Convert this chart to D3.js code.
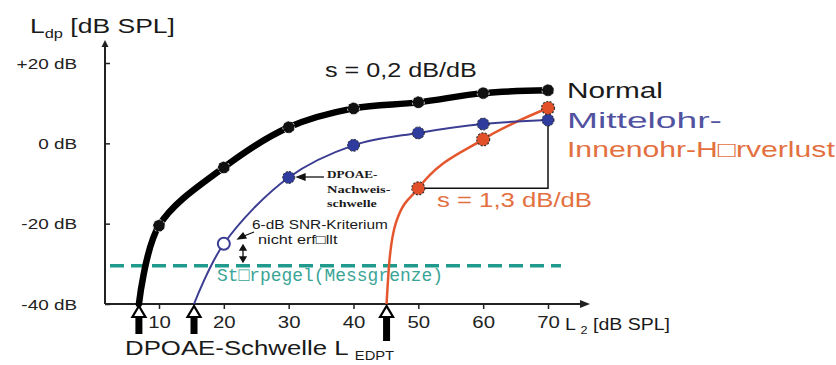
<!DOCTYPE html>
<html>
<head>
<meta charset="utf-8">
<script src="https://cdn.jsdelivr.net/npm/d3@7"></script>
<style>
  html, body { margin: 0; padding: 0; background: #fff; }
  svg { display: block; }
</style>
</head>
<body>
<svg id="chart" width="836" height="365"></svg>
<script>
// ---------------- data ----------------
const xTickValues = [10, 20, 30, 40, 50, 60, 70];
const yTickValues = [20, 0, -20, -40];
const yTickLabels = ["+20 dB", "0 dB", "-20 dB", "-40 dB"];

// DPOAE thresholds L_EDPT (L2 where curves reach -40 dB)
const thresholds = { normal: 6.9, mittelohr: 15.4, innenohr: 45.1 };

// Normal hearing
const normalL2 = [10, 20, 30, 40, 50, 60, 70];
const normalLdp = [-20.5, -6, 4, 8.7, 10.2, 12.5, 13.2];

// Middle-ear hearing loss (first point: 6-dB SNR criterion not met)
const mittelL2 = [20, 30, 40, 50, 60, 70];
const mittelLdp = [-25, -8.5, -0.5, 2.6, 4.8, 5.8];

// Inner-ear hearing loss
const innenL2 = [50, 60, 70];
const innenLdp = [-11.2, 1, 8.8];
// traced points of the drawn red curve below the first dot
const innenTraceL2 = [45.5, 46.6];
const innenTraceLdp = [-30, -19.5];

const noiseFloor = -30.5;   // Störpegel (Messgrenze)
const noiseEnd = 72;

// ---------------- setup ----------------
const svg = d3.select("#chart");
const x = d3.scaleLinear().domain([10, 70]).range([159, 548]);
const y = d3.scaleLinear().domain([-40, 20]).range([304, 63]);
const axisX0 = 105;          // y-axis pixel position
const axisY0 = y(-40);       // x-axis pixel position
const SANS = "'Liberation Sans', Arial, sans-serif";

function addText(parent, o) {
  const g = parent.append("g");
  const t = g.append("text")
    .attr("font-size", o.size)
    .attr("font-family", o.family || SANS)
    .attr("font-weight", o.weight || "normal")
    .attr("fill", o.fill || "#1a1a1a");
  o.parts.forEach(p => {
    t.append("tspan").text(p.t)
      .attr("font-size", p.size || o.size)
      .attr("dy", p.dy || 0);
  });
  const w = t.node().getBBox().width;
  const s = o.width ? o.width / w : (o.sx || 1);
  let tx = o.x;
  if (o.anchor === "end") tx = o.x - w * s;
  if (o.anchor === "middle") tx = o.x - w * s / 2;
  g.attr("transform", `translate(${tx},${o.y}) scale(${s},1)`);
  return g;
}

// ---------------- axes ----------------
const axG = svg.append("g");
axG.append("line").attr("x1", axisX0).attr("x2", 582)
  .attr("y1", axisY0).attr("y2", axisY0)
  .attr("stroke", "#222").attr("stroke-width", 2);
axG.append("path")
  .attr("d", `M590,${axisY0} L580,${axisY0 - 4} L580,${axisY0 + 4} Z`)
  .attr("fill", "#222");
axG.append("line").attr("x1", axisX0).attr("x2", axisX0)
  .attr("y1", axisY0).attr("y2", 46)
  .attr("stroke", "#222").attr("stroke-width", 2);
axG.append("path")
  .attr("d", `M${axisX0},40 L${axisX0 - 3.5},47 L${axisX0 + 3.5},47 Z`)
  .attr("fill", "#222");

// x ticks
const xAxis = d3.axisBottom(x).tickValues(xTickValues).tickSize(5).tickPadding(7);
const gx = svg.append("g").attr("transform", `translate(0,${axisY0})`).call(xAxis);
gx.select(".domain").remove();
gx.selectAll(".tick line").attr("stroke", "#222").attr("stroke-width", 1.5);
gx.selectAll(".tick text")
  .attr("font-size", 17).attr("font-family", SANS).attr("fill", "#222")
  .attr("dy", null).attr("y", 24)
  .attr("transform", "scale(1.2,1)");

// y ticks
const yAxis = d3.axisLeft(y).tickValues(yTickValues).tickSizeInner(-5).tickSizeOuter(0)
  .tickFormat((d, i) => yTickLabels[i]);
const gy = svg.append("g").attr("transform", `translate(${axisX0},0)`).call(yAxis);
gy.select(".domain").remove();
gy.selectAll(".tick line").attr("stroke", "#222").attr("stroke-width", 1.5);
gy.selectAll(".tick text")
  .attr("font-size", 14).attr("font-family", SANS).attr("fill", "#222")
  .attr("x", 0).attr("dy", "0.36em")
  .attr("transform", "translate(-28,0) scale(1.35,1)");

// axis titles
addText(svg, { x: 30, y: 33, size: 21, width: 145,
  parts: [{ t: "L" }, { t: "dp", size: 13, dy: 5 }, { t: " [dB SPL]", dy: -5 }] });
addText(svg, { x: 565, y: 330, size: 17, width: 105,
  parts: [{ t: "L " }, { t: "2", size: 11, dy: 4 }, { t: " [dB SPL]", dy: -4 }] });

// ---------------- noise floor ----------------
svg.append("line")
  .attr("x1", axisX0 + 5).attr("x2", x(noiseEnd))
  .attr("y1", y(noiseFloor)).attr("y2", y(noiseFloor))
  .attr("stroke", "#1f9a8c").attr("stroke-width", 3.5)
  .attr("stroke-dasharray", "14,7");
addText(svg, { x: 217, y: 281, size: 19, width: 226, fill: "#3aa596",
  family: "'Liberation Mono', 'Courier New', monospace",
  parts: [{ t: "St\u25A1rpegel(Messgrenze)" }] });

// ---------------- slope triangle ----------------
const tri = svg.append("g").attr("stroke", "#111").attr("stroke-width", 1.5).attr("fill", "none");
tri.append("path").attr("d",
  `M${x(innenL2[0])},${y(innenLdp[0])} L${x(70)},${y(innenLdp[0])} L${x(70)},${y(mittelLdp[5])}`);

// ---------------- curves ----------------
const lineSmooth = d3.line().x(d => x(d[0])).y(d => y(d[1])).curve(d3.curveCatmullRom.alpha(0.5));
const lineMono = d3.line().x(d => x(d[0])).y(d => y(d[1])).curve(d3.curveMonotoneX);

const normalPts = [[thresholds.normal, -40]].concat(normalL2.map((v, i) => [v, normalLdp[i]]));
const mittelPts = [[thresholds.mittelohr, -40]].concat(mittelL2.map((v, i) => [v, mittelLdp[i]]));
const innenPts = [[thresholds.innenohr, -40]]
  .concat(innenTraceL2.map((v, i) => [v, innenTraceLdp[i]]))
  .concat(innenL2.map((v, i) => [v, innenLdp[i]]));

svg.append("path").attr("d", lineMono(innenPts))
  .attr("fill", "none").attr("stroke", "#e4572e").attr("stroke-width", 2.5);
svg.append("path").attr("d", lineSmooth(mittelPts))
  .attr("fill", "none").attr("stroke", "#3b3d92").attr("stroke-width", 2);
svg.append("path").attr("d", lineSmooth(normalPts))
  .attr("fill", "none").attr("stroke", "#000").attr("stroke-width", 6.5)
  .attr("stroke-linecap", "round").attr("stroke-linejoin", "round");

// ---------------- dots ----------------
svg.append("g").selectAll("circle").data(normalL2.map((v, i) => [v, normalLdp[i]]))
  .join("circle").attr("cx", d => x(d[0])).attr("cy", d => y(d[1])).attr("r", 6)
  .attr("fill", "#111").attr("stroke", "#ddd").attr("stroke-width", 1)
  .attr("stroke-dasharray", "2,2");

svg.append("g").selectAll("circle").data(mittelL2.map((v, i) => [v, mittelLdp[i], i]))
  .join("circle").attr("cx", d => x(d[0])).attr("cy", d => y(d[1])).attr("r", 6)
  .attr("fill", d => d[2] === 0 ? "#fff" : "#2f3c9e")
  .attr("stroke", d => d[2] === 0 ? "#3b3d92" : "#222")
  .attr("stroke-width", d => d[2] === 0 ? 2 : 1)
  .attr("stroke-dasharray", d => d[2] === 0 ? null : "2,1.5");

svg.append("g").selectAll("circle").data(innenL2.map((v, i) => [v, innenLdp[i]]))
  .join("circle").attr("cx", d => x(d[0])).attr("cy", d => y(d[1])).attr("r", 6.5)
  .attr("fill", "#e2502a").attr("stroke", "#333").attr("stroke-width", 1.2)
  .attr("stroke-dasharray", "2,1.5");

// ---------------- threshold arrows ----------------
const arrG = svg.append("g");
[[thresholds.normal, 334], [thresholds.mittelohr, 334], [thresholds.innenohr, 341]].forEach(([t, yb]) => {
  const cx = x(t);
  arrG.append("rect").attr("x", cx - 3.5).attr("y", 316).attr("width", 7).attr("height", yb - 316)
    .attr("fill", "#000");
  arrG.append("path").attr("d", `M${cx},${axisY0 + 2} L${cx - 6.5},317 L${cx + 6.5},317 Z`)
    .attr("fill", "#fff").attr("stroke", "#000").attr("stroke-width", 2.2).attr("stroke-linejoin", "miter");
});

// ---------------- labels ----------------
addText(svg, { x: 325, y: 77, size: 20, width: 152, parts: [{ t: "s = 0,2 dB/dB" }] });
addText(svg, { x: 567, y: 98, size: 22, width: 96, parts: [{ t: "Normal" }] });
addText(svg, { x: 567, y: 128, size: 22, width: 155, fill: "#5252a0", parts: [{ t: "Mittelohr-" }] });
addText(svg, { x: 567, y: 157, size: 22, width: 268, fill: "#e3703f", parts: [{ t: "Innenohr-H\u25A1rverlust" }] });
addText(svg, { x: 437, y: 207, size: 20, width: 155, fill: "#e3703f", parts: [{ t: "s = 1,3 dB/dB" }] });

const SERIF = "'Liberation Serif', 'Times New Roman', serif";
addText(svg, { x: 327, y: 178, size: 11, weight: "bold", family: SERIF, width: 51, parts: [{ t: "DPOAE-" }] });
addText(svg, { x: 327, y: 193, size: 11, weight: "bold", family: SERIF, width: 64, parts: [{ t: "Nachweis-" }] });
addText(svg, { x: 327, y: 207, size: 11, weight: "bold", family: SERIF, width: 50, parts: [{ t: "schwelle" }] });

addText(svg, { x: 252, y: 229, size: 13, width: 136, parts: [{ t: "6-dB SNR-Kriterium" }] });
addText(svg, { x: 258, y: 244, size: 13, width: 80, parts: [{ t: "nicht erf\u25A1llt" }] });

addText(svg, { x: 125, y: 355, size: 21, width: 270,
  parts: [{ t: "DPOAE-Schwelle L " }, { t: "EDPT", size: 12, dy: 5 }] });

// pointer arrows
const ptr = svg.append("g").attr("stroke", "#111").attr("stroke-width", 1.3).attr("fill", "#111");
ptr.append("line").attr("x1", 324).attr("y1", 177).attr("x2", 304).attr("y2", 177);
ptr.append("path").attr("d", "M297,177 L305,174 L305,180 Z");
ptr.append("line").attr("x1", 254).attr("y1", 232).attr("x2", 244).attr("y2", 236);
ptr.append("path").attr("d", "M238,239 L243,233 L246,238 Z");
ptr.append("line").attr("x1", 243).attr("y1", 249).attr("x2", 243).attr("y2", 258);
ptr.append("path").attr("d", "M243,245 L240,250 L246,250 Z");
ptr.append("path").attr("d", "M243,262 L240,257 L246,257 Z");
</script>
</body>
</html>
